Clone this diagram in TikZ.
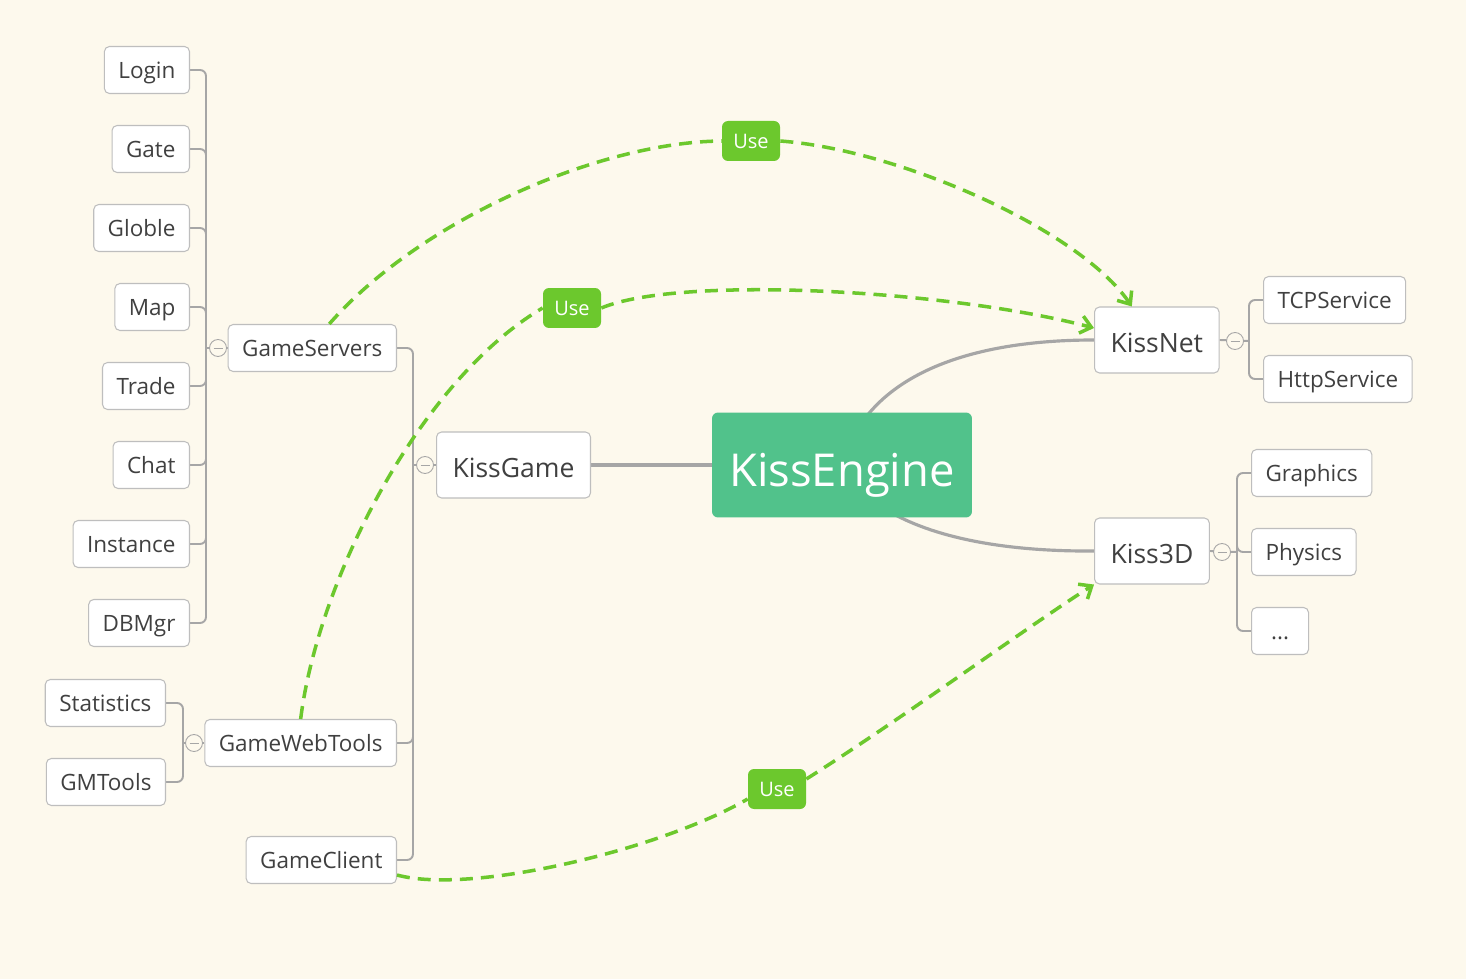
\documentclass[tikz,border=0pt]{standalone}
\usepackage{fontspec}
\setmainfont{Open Sans}
\usetikzlibrary{arrows.meta,backgrounds}

\definecolor{paper}{RGB}{253,249,237}
\definecolor{boxline}{RGB}{190,190,190}
\definecolor{ink}{RGB}{64,64,64}
\definecolor{branchgray}{RGB}{166,166,166}
\definecolor{enginegreen}{RGB}{81,194,139}
\definecolor{usegreen}{RGB}{108,200,45}

\tikzset{
  topic/.style={draw=boxline, line width=0.6pt, fill=white, rounded corners=0.1cm, text=ink,
    font=\fontsize{12.8}{15}\selectfont, inner xsep=0.28cm, inner ysep=0pt, minimum height=0.94cm,
    text height=9.9pt, text depth=0pt},
  subtopic/.style={topic, font=\fontsize{15.1}{18}\selectfont, inner xsep=0.32cm, minimum height=1.32cm,
    text height=14.6pt},
  central/.style={fill=enginegreen, rounded corners=0.12cm, text=white, inner ysep=0pt,
    font=\fontsize{25.8}{30}\selectfont, minimum width=5.2cm, minimum height=2.1cm,
    text height=25pt, text depth=0pt},
  uselabel/.style={fill=usegreen, rounded corners=0.12cm, text=white, font=\fontsize{11.4}{13}\selectfont,
    minimum width=1.16cm, minimum height=0.8cm, inner sep=0pt, text height=8.6pt, text depth=0pt},
  fold/.style={circle, draw=branchgray, line width=0.5pt, fill=paper, minimum size=0.34cm, inner sep=0pt,
    path picture={\draw[branchgray, line width=0.5pt] ([xshift=-0.09cm]path picture bounding box.center)
      -- ([xshift=0.09cm]path picture bounding box.center);}},
  branch/.style={draw=branchgray, line width=1.1pt, rounded corners=0.12cm},
  mainline/.style={draw=branchgray, line width=1.8pt},
  uses/.style={draw=usegreen, line width=2pt, dash pattern=on 7.4pt off 4.6pt},
  usetip/.style={-{Straight Barb[length=6pt,width=10pt]}}
}

\begin{document}
\begin{tikzpicture}[x=0.02cm, y=-0.02cm]
  \useasboundingbox (0,0) rectangle (1466,979);

  % main topics
  \node[central] (KissEngine) at (842,465) {KissEngine};
  \node[subtopic, anchor=east] (KissGame) at (591,465) {KissGame};
  \node[subtopic, anchor=west] (KissNet) at (1094,340) {KissNet};
  \node[subtopic, anchor=west] (Kiss3D) at (1094,551) {Kiss3D};

  % KissGame side
  \node[topic, anchor=east] (GameServers) at (397,348) {GameServers};
  \node[topic, anchor=east] (GameWebTools) at (397,743) {GameWebTools};
  \node[topic, anchor=east] (GameClient) at (397,860) {GameClient};
  \foreach \name/\y in {Login/70,Gate/149,Globle/228,Map/307,Trade/386,Chat/465,Instance/544,DBMgr/623}
    \node[topic, anchor=east] (\name) at (190,\y) {\name};
  \node[topic, anchor=east] (Statistics) at (166,703) {Statistics};
  \node[topic, anchor=east] (GMTools) at (166,782) {GMTools};

  % KissNet and Kiss3D side
  \node[topic, anchor=west] (TCPService) at (1263,300) {TCPService};
  \node[topic, anchor=west] (HttpService) at (1263,379) {HttpService};
  \node[topic, anchor=west] (Graphics) at (1251,473) {Graphics};
  \node[topic, anchor=west] (Physics) at (1251,552) {Physics};
  \node[topic, anchor=west, minimum width=1.14cm] (Etc) at (1251,631) {...};

  % fold markers
  \node[fold] (gsfold) at (218,348) {};
  \node[fold] (kgfold) at (425,465) {};
  \node[fold] (gwfold) at (194,743) {};
  \node[fold] (knfold) at (1235,341) {};
  \node[fold] (kdfold) at (1222,552) {};
  \coordinate (gsjoin) at (206,348);
  \coordinate (kgjoin) at (413,465);
  \coordinate (gwjoin) at (183,743);
  \coordinate (knjoin) at (1249,341);
  \coordinate (kdjoin) at (1237,552);

  \begin{scope}[on background layer]
    \fill[paper] (0,0) rectangle (1466,979);
    \draw[mainline] (KissEngine) -- (KissGame);
    \draw[mainline] (KissEngine.center) .. controls (865,380) and (960,340) .. (KissNet.west);
    \draw[mainline] (KissEngine.center) .. controls (870,520) and (960,552) .. (Kiss3D.west);
    \foreach \name in {Login,Gate,Globle,Map,Trade,Chat,Instance,DBMgr}
      \draw[branch] (\name.east) -| (gsjoin);
    \draw[branch] (GameServers.west) -- (gsjoin);
    \foreach \name in {GameServers,GameWebTools,GameClient}
      \draw[branch] (\name.east) -| (kgjoin);
    \draw[branch] (KissGame.west) -- (kgjoin);
    \foreach \name in {Statistics,GMTools}
      \draw[branch] (\name.east) -| (gwjoin);
    \draw[branch] (GameWebTools.west) -- (gwjoin);
    \draw[branch] (KissNet.east) -- (knjoin);
    \foreach \name in {TCPService,HttpService}
      \draw[branch] (knjoin) |- (\name.west);
    \draw[branch] (Kiss3D.east) -- (kdjoin);
    \foreach \name in {Graphics,Physics,Etc}
      \draw[branch] (kdjoin) |- (\name.west);
  \end{scope}

  % use relations
  \node[uselabel] (use1) at (751,141) {Use};
  \node[uselabel] (use2) at (572,308) {Use};
  \node[uselabel] (use3) at (777,789) {Use};
  \draw[uses] ([xshift=0.34cm]GameServers.north) .. controls (420,220) and (600,142) .. (use1.west);
  \draw[uses, usetip] (use1.east) .. controls (900,150) and (1080,230) .. ([xshift=-0.5cm]KissNet.north);
  \draw[uses] (GameWebTools.north) .. controls (318,580) and (420,380) .. (use2.west);
  \draw[uses, usetip] (use2.east) .. controls (680,275) and (950,290) .. ([yshift=0.24cm]KissNet.west);
  \draw[uses] ([yshift=-0.3cm]GameClient.east) .. controls (470,895) and (660,850) .. ([yshift=-0.2cm]use3.west);
  \draw[uses, usetip] ([yshift=0.2cm]use3.east) .. controls (900,720) and (1030,625) .. (Kiss3D.south west);
\end{tikzpicture}
\end{document}
